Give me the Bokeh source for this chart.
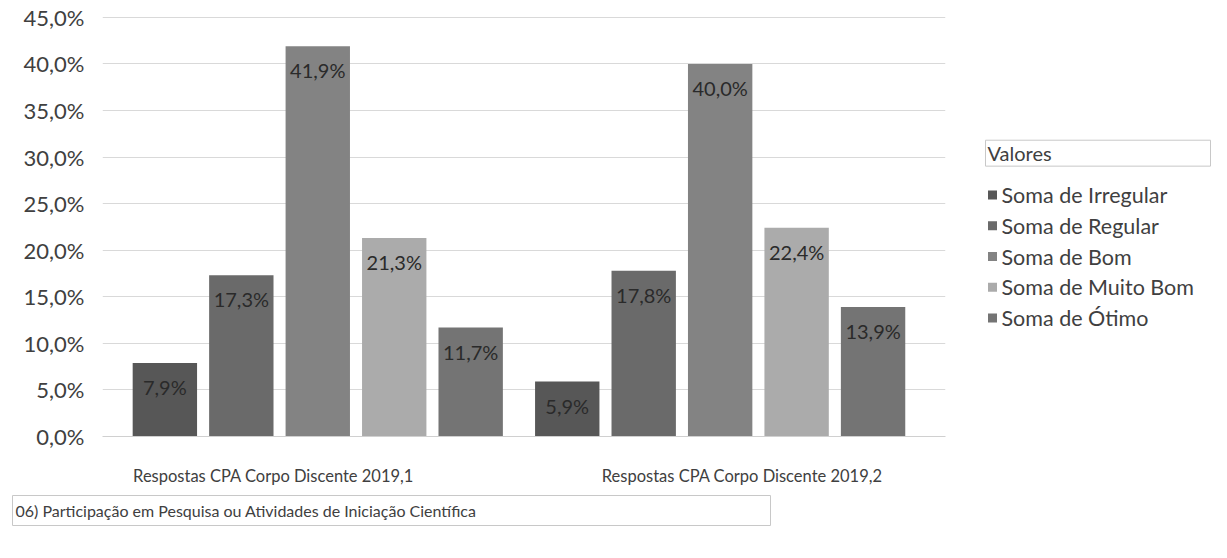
from bokeh.plotting import figure
from bokeh.layouts import row, column
from bokeh.models import Range1d, FixedTicker, ColumnDataSource
from bokeh.core.properties import value
from bokeh.embed import file_html
from bokeh.resources import INLINE

# ---- data ----
categories = ["Respostas CPA Corpo Discente 2019,1", "Respostas CPA  Corpo Discente 2019,2"]
series_names = ["Soma de Irregular", "Soma de Regular", "Soma de Bom", "Soma de Muito Bom", "Soma de Ótimo"]
irregular = [7.9, 5.9]
regular = [17.3, 17.8]
bom = [41.9, 40.0]
muito_bom = [21.3, 22.4]
otimo = [11.7, 13.9]
y_ticks = [0, 5, 10, 15, 20, 25, 30, 35, 40, 45]
y_tick_labels = ["0,0%", "5,0%", "10,0%", "15,0%", "20,0%", "25,0%", "30,0%", "35,0%", "40,0%", "45,0%"]
chart_title = "06) Participação em Pesquisa ou Atividades de Iniciação Científica"
legend_title = "Valores"

series_values = [irregular, regular, bom, muito_bom, otimo]
colors = ["#575757", "#6a6a6a", "#838383", "#ababab", "#747474"]

FONT = "Lato"
TXT = "#404040"


def blank(fig):
    fig.axis.visible = False
    fig.grid.visible = False
    fig.outline_line_color = None
    fig.background_fill_color = "white"
    fig.border_fill_color = "white"


# ---- main chart ----
MW, MH = 960, 488
TOP, BOT = 15, 51
p = figure(width=MW, height=MH, output_backend="svg", toolbar_location=None,
           x_range=Range1d(-0.035, 2.06), y_range=Range1d(0, 45.2),
           min_border_left=102, min_border_right=15, min_border_top=TOP, min_border_bottom=BOT)
p.outline_line_color = None
p.background_fill_color = "white"
p.border_fill_color = "white"

p.yaxis.ticker = FixedTicker(ticks=y_ticks)
p.yaxis.major_label_overrides = {t: l for t, l in zip(y_ticks, y_tick_labels)}
p.yaxis.axis_line_color = None
p.yaxis.major_tick_line_color = None
p.yaxis.minor_tick_line_color = None
p.yaxis.major_label_text_font = FONT
p.yaxis.major_label_text_font_size = "22px"
p.yaxis.major_label_text_color = TXT
p.yaxis.major_label_standoff = 12

cat_pos = [i + 0.5 for i in range(len(categories))]
label_shift = [-0.11, 0.06]  # the scanned labels sit slightly off-centre
lab_pos = [c + s for c, s in zip(cat_pos, label_shift)]
p.xaxis.ticker = FixedTicker(ticks=lab_pos)
p.xaxis.major_label_overrides = {pos: c for pos, c in zip(lab_pos, categories)}
p.xaxis.axis_line_color = "#d0d0d0"
p.xaxis.major_tick_line_color = None
p.xaxis.minor_tick_line_color = None
p.xaxis.major_label_text_font = FONT
p.xaxis.major_label_text_font_size = "16.5px"
p.xaxis.major_label_text_color = TXT
p.xaxis.major_label_standoff = 23

p.xgrid.grid_line_color = None
p.ygrid.grid_line_color = "#d9d9d9"
p.ygrid.ticker = FixedTicker(ticks=y_ticks)

step, bw = 0.19, 0.16
for i, (vals, col) in enumerate(zip(series_values, colors)):
    xs = [c + (i - 2) * step for c in cat_pos]
    src = ColumnDataSource(dict(x=xs, top=vals,
                                lab=[f"{v:.1f}".replace(".", ",") + "%" for v in vals]))
    p.vbar(x="x", top="top", width=bw, source=src, fill_color=col, line_color=None)
    p.text(x="x", y="top", text="lab", source=src, text_align="center", text_baseline="top",
           y_offset=12, text_font=value(FONT), text_font_size="20px", text_color="#2a2a2a")

# ---- legend panel (page-pixel coordinates) ----
LW = 1211 - MW
lg = figure(width=LW, height=MH, output_backend="svg", toolbar_location=None,
            x_range=Range1d(0, LW), y_range=Range1d(MH - BOT, TOP),
            min_border_left=0, min_border_right=0,
            min_border_top=TOP, min_border_bottom=BOT)
blank(lg)
lg.quad(left=[25], right=[LW - 1], top=[140], bottom=[166],
        fill_color=None, line_color="#c8c8c8", line_width=1)
lg.text(x=[27], y=[153], text=[legend_title], text_baseline="middle",
        text_font=value(FONT), text_font_size="20px", text_color=TXT)
leg_y = [195 + i * 30.8 for i in range(len(series_names))]
lg.rect(x=[32] * len(series_names), y=leg_y, width=9, height=9,
        fill_color=colors, line_color=None)
lg.text(x=[41] * len(series_names), y=leg_y, text=series_names, text_baseline="middle",
        text_font=value(FONT), text_font_size="21.5px", text_color=TXT)

# ---- bottom title panel ----
BH = 542 - MH
bt = figure(width=1211, height=BH, output_backend="svg", toolbar_location=None,
            x_range=Range1d(0, 1211), y_range=Range1d(BH, 0),
            min_border_left=0, min_border_right=0, min_border_top=0, min_border_bottom=0)
blank(bt)
bt.quad(left=[12], right=[770], top=[7], bottom=[37],
        fill_color=None, line_color="#c8c8c8", line_width=1)
bt.text(x=[15], y=[22], text=[chart_title], text_baseline="middle",
        text_font=value(FONT), text_font_size="16px", text_color=TXT)

layout = column(row(p, lg, spacing=0), bt, spacing=0)
open("out.html", "w").write(file_html(layout, INLINE))
